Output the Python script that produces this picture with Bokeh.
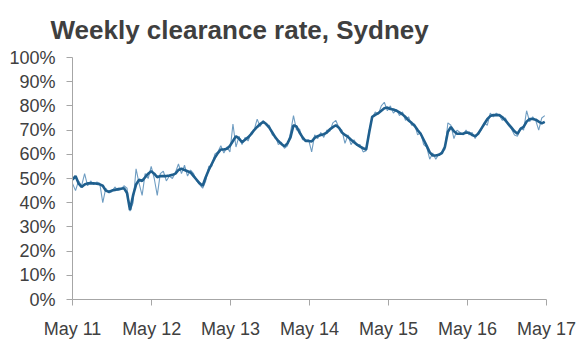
import pandas as pd
from bokeh.plotting import figure
from bokeh.models import Range1d, FixedTicker, DatetimeTickFormatter, PrintfTickFormatter, Title
from bokeh.embed import file_html
from bokeh.resources import INLINE

TITLE = "Weekly clearance rate, Sydney"
START = "2011-05-01"
END = "2017-05-01"
X_TICKS = ["2011-05-01", "2012-05-01", "2013-05-01", "2014-05-01",
           "2015-05-01", "2016-05-01", "2017-05-01"]
Y_TICKS = [0, 10, 20, 30, 40, 50, 60, 70, 80, 90, 100]

# fortnightly readings (%), starting May 2011
weekly_rate = [
    48, 45, 49, 47, 52, 47, 49, 47.5, 48.5, 48, 40, 46, 44, 44.5, 46.5, 45, 45.5, 47, 46, 36.5, 40, 54, 48, 43, 52, 50,
    55, 50, 43, 52, 53, 49, 51, 50, 52.5, 56, 52, 55.5, 51, 53.5, 52, 49, 47.5, 46, 49, 55, 55, 60, 61, 63.5, 60.5, 63,
    61, 72.5, 63, 67.5, 64, 67, 65.5, 69, 70, 74.5, 71.5, 74, 72, 72, 68, 67.5, 64, 65, 62.5, 63.5, 69, 76, 70, 70.5, 66, 66,
    66, 61, 68, 66.5, 69, 67, 70, 69.5, 73, 74, 71, 70, 64.5, 68, 64, 66, 63.5, 64, 61, 61.5, 70, 75, 77.5, 76.5, 80, 81.5,
    78, 80, 77, 78.5, 76, 77.5, 74, 75.5, 72, 72.5, 68, 69, 64, 63, 58, 60.5, 58, 60, 61, 62, 73, 72, 66.5, 70, 69, 68,
    70, 68, 69, 66.5, 69, 70, 73, 72, 77, 75.5, 77, 76, 74, 75, 72, 70.5, 68, 67.5, 71, 70, 78, 73.5, 75.5, 74, 70, 75, 76,
]

smoothed_rate = [
    49.5, 51, 48, 46.5, 47.5, 48, 48, 48, 47.8, 47.6, 47, 45, 44.5, 45, 45.3, 45.6, 45.8, 46, 44, 37, 43, 47.5, 49.5, 49, 50.5, 52,
    53, 52, 50.5, 51, 51, 51, 51.2, 51.5, 52, 53.5, 54, 53.5, 53, 52.5, 51, 49.5, 48, 47, 50.5, 53.5, 56, 58.5, 60.5, 62, 62, 62.3,
    63.5, 65.5, 67.5, 66.5, 65, 66, 67, 68.3, 70, 71.3, 72.5, 73.4, 72.5, 71, 69, 67, 65.5, 64.3, 63.3, 64.5, 67, 72, 71.5, 69, 67, 65.5,
    65.5, 65.3, 66.8, 67.5, 68, 68.3, 69, 70.3, 71.2, 72, 71, 69, 68, 67.2, 66, 65, 64, 63.2, 62.5, 62, 69, 75.5, 76.3, 77, 78, 79,
    79.3, 78.7, 78.5, 78, 77.3, 76.5, 75.4, 74, 73, 71.8, 70, 68.5, 66, 63.5, 60.8, 59.5, 59.5, 59.8, 60.5, 63, 69.3, 71.3, 69.5, 68.5, 68.5, 68.5,
    69, 68.9, 68, 67.5, 68.5, 70.5, 72.5, 74.5, 75.8, 76.2, 76.2, 76.2, 75.3, 74, 72.5, 71, 69.5, 68.5, 70.5, 71.3, 73.5, 74.6, 74.6, 74.3, 73.5, 72.8, 73.4,
]

dates = pd.date_range(START, periods=len(weekly_rate), freq="14D")

FONT = "'Liberation Sans', Arial, sans-serif"
TEXT = "#404040"
AXIS = "#a6a6a6"

p = figure(width=580, height=352, output_backend="svg", toolbar_location=None,
           x_axis_type="datetime",
           x_range=Range1d(pd.Timestamp(START), pd.Timestamp(END)),
           y_range=Range1d(0, 100),
           min_border_left=72, min_border_right=34, min_border_top=55, min_border_bottom=53)
p.outline_line_color = None
p.grid.visible = False
p.background_fill_color = "white"
p.border_fill_color = "white"

p.title = Title(text=TITLE, align="left", offset=-22, standoff=25,
                text_font=FONT, text_font_size="26px", text_font_style="bold",
                text_color="#3f3f3f")

p.line(dates, weekly_rate, line_color="#6f9dc2", line_width=1.1)
p.line(dates, smoothed_rate, line_color="#1f5f8e", line_width=2.6)

xa = p.xaxis[0]
xa.ticker = FixedTicker(ticks=[pd.Timestamp(t).value / 1e6 for t in X_TICKS])
xa.formatter = DatetimeTickFormatter(years="%b %y", months="%b %y", days="%b %y",
                                     hours="%b %y", hourmin="%b %y")
ya = p.yaxis[0]
ya.ticker = FixedTicker(ticks=Y_TICKS)
ya.formatter = PrintfTickFormatter(format="%d%%")

for ax in (xa, ya):
    ax.axis_line_color = AXIS
    ax.major_tick_line_color = AXIS
    ax.minor_tick_line_color = None
    ax.major_tick_in = 0
    ax.major_tick_out = 6
    ax.major_label_text_font = FONT
    ax.major_label_text_font_size = "18px"
    ax.major_label_text_color = TEXT
xa.major_label_standoff = 13
ya.major_label_standoff = 11

open("out.html", "w").write(file_html(p, INLINE))
